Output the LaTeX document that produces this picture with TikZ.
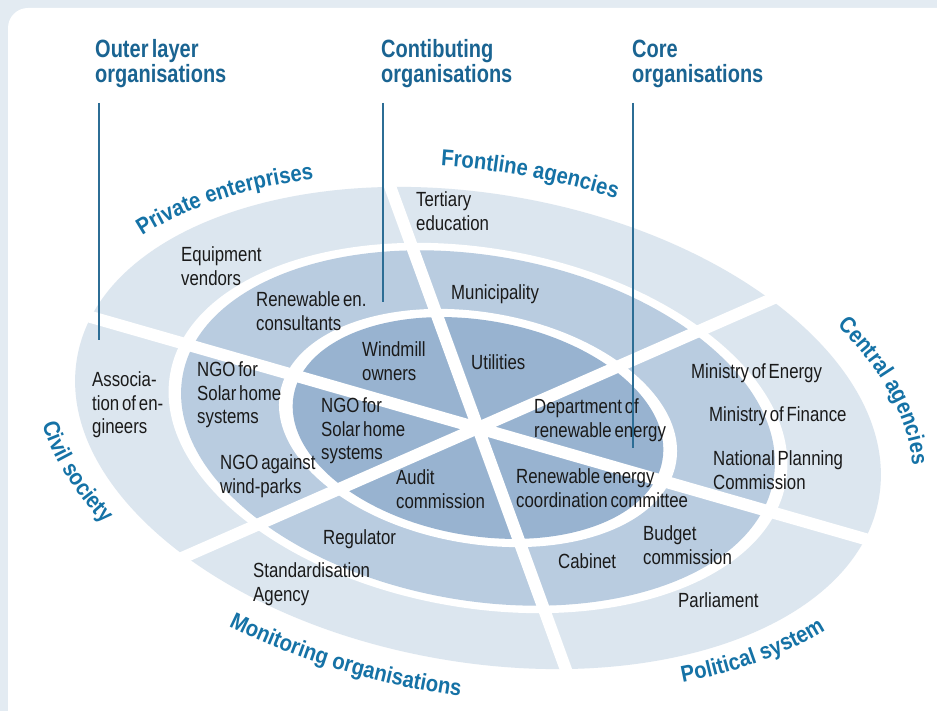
\documentclass[tikz,border=0pt]{standalone}
\usepackage{fontspec}
\usetikzlibrary{decorations.text,calc}
\newfontfamily\bodyfont{Liberation Sans}[FakeStretch=0.82,WordSpace=0.6]
\newfontfamily\headfont{Liberation Sans}[FakeStretch=0.8,WordSpace=0.6]
\newfontfamily\arcfont{Liberation Sans}[FakeStretch=0.88]
\definecolor{bgstrip}{HTML}{E3EBF2}
\definecolor{ringA}{HTML}{DCE6EF}
\definecolor{ringB}{HTML}{B9CCE0}
\definecolor{ringC}{HTML}{98B3D0}
\definecolor{headblue}{HTML}{1A6492}
\definecolor{labelblue}{HTML}{1572A6}
\definecolor{lineteal}{HTML}{2C6D95}
\definecolor{bodytext}{HTML}{1A1A1A}
\tikzset{
  item/.style={anchor=base west, inner sep=0pt, align=left, text=bodytext,
    font=\bodyfont\fontsize{20.5}{23.5}\selectfont},
  head/.style={anchor=base west, inner sep=0pt, align=left, text=headblue,
    font=\headfont\bfseries\fontsize{25}{25}\selectfont},
  pointer/.style={draw=lineteal, line width=1.2pt},
  divider/.style={draw=white, line width=12pt},
  arclabel/.style={decorate, decoration={text along path, text align=center,
    text color=labelblue, text={|\arcfont\bfseries\fontsize{23}{23}\selectfont|#1}}}
}
\begin{document}
\begin{tikzpicture}[x=1pt,y=1pt]
\useasboundingbox (0,0) rectangle (937,711);
\clip (0,0) rectangle (937,711);
\fill[bgstrip] (0,0) rectangle (937,711);
\fill[white, rounded corners=20pt] (8,-40) rectangle (990,703);

\def\ea{407}\def\eb{234}
% rings
\begin{scope}[shift={(478,283)}, rotate=-10]
  \fill[ringA] (0,0) ellipse [x radius={\ea}, y radius={\eb}];
  \fill[white] (0,0) ellipse [x radius={0.768*\ea}, y radius={0.768*\eb}];
  \fill[ringB] (0,0) ellipse [x radius={0.737*\ea}, y radius={0.737*\eb}];
  \fill[white] (0,0) ellipse [x radius={0.494*\ea}, y radius={0.494*\eb}];
  \fill[ringC] (0,0) ellipse [x radius={0.46*\ea}, y radius={0.46*\eb}];
\end{scope}

% dividers
\coordinate (ctr) at (478,283);
\begin{scope}
  \clip[shift={(478,283)}, rotate=-10] (0,0) ellipse [x radius={1.01*\ea}, y radius={1.01*\eb}];
  \coordinate (dA1) at ($(ctr)+(110:520)$);
  \coordinate (dA2) at ($(ctr)+(290:520)$);
  \coordinate (dB1) at ($(ctr)+(164:520)$);
  \coordinate (dB2) at ($(ctr)+(344:520)$);
  \coordinate (dC1) at ($(ctr)+(23.7:520)$);
  \coordinate (dC2) at ($(ctr)+(203.7:520)$);
  \draw[divider] (dA1) -- (dA2);
  \draw[divider] (dB1) -- (dB2);
  \draw[divider] (dC1) -- (dC2);
\end{scope}

% curved sector labels
\begin{scope}[shift={(478,283)}, rotate=-10]
  \path[arclabel=Private enterprises] (166:{1.055*\ea} and {1.055*\eb})
    arc[start angle=166, end angle=106, x radius={1.055*\ea}, y radius={1.055*\eb}];
  \path[arclabel=Frontline agencies] (119:{1.094*\ea} and {1.094*\eb})
    arc[start angle=119, end angle=59, x radius={1.094*\ea}, y radius={1.094*\eb}];
  \path[arclabel=Central agencies] (52:{1.08*\ea} and {1.08*\eb})
    arc[start angle=52, end angle=-8, x radius={1.08*\ea}, y radius={1.08*\eb}];
  \path[arclabel=Political system] (288.5:{1.10*\ea} and {1.10*\eb})
    arc[start angle=288.5, end angle=348.5, x radius={1.10*\ea}, y radius={1.10*\eb}];
  \path[arclabel=Monitoring organisations] (227.5:{1.145*\ea} and {1.145*\eb})
    arc[start angle=227.5, end angle=287.5, x radius={1.145*\ea}, y radius={1.145*\eb}];
  \path[arclabel=Civil society] (174:{1.10*\ea} and {1.10*\eb})
    arc[start angle=174, end angle=234, x radius={1.10*\ea}, y radius={1.10*\eb}];
\end{scope}

% texts (screen coordinates, y downward; anchor = baseline of last line)
\begin{scope}[shift={(0,711)}, yscale=-1]
  \node[head] (hOuter) at (95,83) {Outer layer\\organisations};
  \node[head] (hContrib) at (381,83) {Contibuting\\organisations};
  \node[head] (hCore) at (632,83) {Core\\organisations};

  \node[item] (tTertiary) at (416,230.5) {Tertiary\\education};
  \node[item] (tEquip) at (181,285.5) {Equipment\\vendors};
  \node[item] (tConsult) at (256,330.5) {Renewable en.\\consultants};
  \node[item] (tMunic) at (451,300) {Municipality};
  \node[item] (tWind) at (362,380.5) {Windmill\\owners};
  \node[item] (tUtil) at (471,370) {Utilities};
  \node[item] (tAssoc) at (92,434) {Associa-\\tion of en-\\gineers};
  \node[item] (tNgoMid) at (197,424) {NGO for\\Solar home\\systems};
  \node[item] (tNgoIn) at (321,460) {NGO for\\Solar home\\systems};
  \node[item] (tNgoWind) at (220,493.5) {NGO against\\wind-parks};
  \node[item] (tAudit) at (396,508.5) {Audit\\commission};
  \node[item] (tDept) at (534,437.5) {Department of\\renewable energy};
  \node[item] (tCoord) at (516,507.5) {Renewable energy\\coordination committee};
  \node[item] (tMinE) at (691,379) {Ministry of Energy};
  \node[item] (tMinF) at (709,422) {Ministry of Finance};
  \node[item] (tNPC) at (713,489.5) {National Planning\\Commission};
  \node[item] (tReg) at (323,545) {Regulator};
  \node[item] (tStd) at (253,601.5) {Standardisation\\Agency};
  \node[item] (tCab) at (558,569) {Cabinet};
  \node[item] (tBudget) at (643,564.5) {Budget\\commission};
  \node[item] (tParl) at (678,608) {Parliament};

  \coordinate (pOuterA) at (99,103);
  \coordinate (pOuterB) at (99,340);
  \coordinate (pContribA) at (383,103);
  \coordinate (pContribB) at (383,302);
  \coordinate (pCoreA) at (633,103);
  \coordinate (pCoreB) at (633,448);
  \draw[pointer] (pOuterA) -- (pOuterB);
  \draw[pointer] (pContribA) -- (pContribB);
  \draw[pointer] (pCoreA) -- (pCoreB);
\end{scope}
\end{tikzpicture}
\end{document}
